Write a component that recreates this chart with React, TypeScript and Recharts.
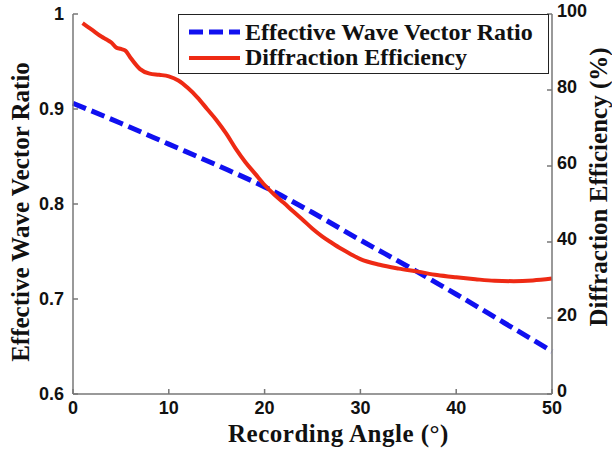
import { Legend, Line, LineChart, XAxis, YAxis } from "recharts"

// effective wave vector ratio (left axis)
const ratioAngles = [0, 5, 10, 15, 20, 25, 30, 35, 40, 45, 50]
const ratioValues = [0.906, 0.885, 0.863, 0.841, 0.818, 0.791, 0.762, 0.734, 0.705, 0.675, 0.645]

// diffraction efficiency in % (right axis)
const effAngles = [
  1, 2, 3, 3.5, 4, 4.5, 5, 5.5, 6, 7, 8, 9, 10, 11, 12, 13, 14, 15, 16, 17, 18, 19, 20,
  21, 22, 23, 24, 25, 26, 27, 28, 29, 30, 32, 34, 36, 38, 40, 42, 44, 46, 48, 50,
]
const effValues = [
  97.6, 95.8, 94.0, 93.3, 92.5, 91.2, 90.8, 90.3, 88.5, 85.5, 84.3, 84.0, 83.6, 82.5, 80.5,
  78.0, 75.0, 72.0, 68.5, 64.5, 61.0, 58.0, 55.0, 52.5, 50.3, 48.0, 45.8, 43.5, 41.5, 39.8,
  38.2, 36.8, 35.5, 34.0, 33.0, 32.2, 31.3, 30.7, 30.2, 29.8, 29.7, 29.9, 30.4,
]

const angleTicks = [0, 10, 20, 30, 40, 50]
const ratioTicks = [0.6, 0.7, 0.8, 0.9, 1]
const effTicks = [0, 20, 40, 60, 80, 100]

const ratioData = ratioAngles.map((a, i) => ({ angle: a, ratio: ratioValues[i] }))
const effData = effAngles.map((a, i) => ({ angle: a, eff: effValues[i] }))

const BLUE = "#1010f0"
const RED = "#ee2a14"
const AXIS = "#777"
const tickFont = { fontFamily: "Liberation Sans", fontWeight: "bold", fontSize: 18, fill: "#111" }
const titleFont = { fontFamily: "Liberation Serif", fontWeight: "bold", fontSize: 25, fill: "#111" }

function LegendBox() {
  return (
    <svg width={371} height={60} style={{ display: "block" }}>
      <rect x={0.5} y={0.5} width={370} height={59} fill="#fff" stroke="#222" strokeWidth={1} />
      <line x1={11} x2={62} y1={18} y2={18} stroke={BLUE} strokeWidth={5} strokeDasharray="14 6" />
      <line x1={11} x2={62} y1={44} y2={44} stroke={RED} strokeWidth={4} />
      <text x={67} y={26} style={{ ...titleFont, fontSize: 24 }}>Effective Wave Vector Ratio</text>
      <text x={67} y={51} style={{ ...titleFont, fontSize: 24 }}>Diffraction Efficiency</text>
    </svg>
  )
}

function BottomTitle(props: any) {
  const vb = props.viewBox
  return (
    <text x={vb.x + vb.width / 2 + 26} y={vb.y + 48} textAnchor="middle" style={{ ...titleFont, letterSpacing: 0.5 }}>
      Recording Angle (°)
    </text>
  )
}

function LeftTitle(props: any) {
  const vb = props.viewBox
  const cx = vb.x + 12
  const cy = vb.y + vb.height / 2 + 8
  return (
    <text transform={`translate(${cx},${cy}) rotate(-90)`} textAnchor="middle" dominantBaseline="central" style={titleFont}>
      Effective Wave Vector Ratio
    </text>
  )
}

function RightTitle(props: any) {
  const vb = props.viewBox
  const cx = vb.x + 46
  const cy = vb.y + vb.height / 2 - 17
  return (
    <text transform={`translate(${cx},${cy}) rotate(-90)`} textAnchor="middle" dominantBaseline="central" style={titleFont}>
      Diffraction Efficiency (%)
    </text>
  )
}

export default function App() {
  return (
    <div style={{ position: "absolute", left: 0, top: 0, width: 612, height: 453, background: "#fff" }}>
      <LineChart width={612} height={453} margin={{ top: 14, right: 8, bottom: 9, left: 8 }} style={{ overflow: "visible" }}>
        <XAxis
          dataKey="angle"
          type="number"
          domain={[0, 50]}
          ticks={angleTicks}
          xAxisId="bottom"
          height={50}
          stroke={AXIS}
          strokeWidth={1.5}
          tickSize={-5}
          tickMargin={12}
          tick={tickFont}
          label={<BottomTitle />}
        />
        <XAxis
          dataKey="angle"
          type="number"
          domain={[0, 50]}
          ticks={angleTicks}
          xAxisId="top"
          orientation="top"
          height={0}
          stroke={AXIS}
          strokeWidth={1.5}
          tickSize={-5}
          tickFormatter={() => ""}
        />
        <YAxis
          yAxisId="left"
          type="number"
          domain={[0.6, 1]}
          ticks={ratioTicks}
          width={65}
          stroke={AXIS}
          strokeWidth={1.5}
          tickSize={-5}
          tickMargin={14}
          tick={tickFont}
          tickFormatter={(v: number) => (v === 1 ? "1" : v.toFixed(1))}
          label={<LeftTitle />}
        />
        <YAxis
          yAxisId="mirror"
          orientation="right"
          type="number"
          domain={[0.6, 1]}
          ticks={ratioTicks}
          width={0}
          stroke={AXIS}
          strokeWidth={1.5}
          tickSize={-5}
          tickFormatter={() => ""}
        />
        <YAxis
          yAxisId="right"
          orientation="right"
          type="number"
          domain={[0, 100]}
          ticks={effTicks}
          width={52}
          stroke={AXIS}
          strokeWidth={1.5}
          tickSize={-5}
          tickMargin={10}
          tick={{ ...tickFont, textAnchor: "start", dy: -3 }}
          label={<RightTitle />}
        />
        <Legend
          layout="vertical"
          align="center"
          verticalAlign="middle"
          wrapperStyle={{ left: 178, top: 14, width: 371, height: 60 }}
          content={() => <LegendBox />}
        />
        <Line
          data={ratioData}
          xAxisId="bottom"
          yAxisId="left"
          dataKey="ratio"
          type="monotone"
          stroke={BLUE}
          strokeWidth={5}
          strokeDasharray="14 6"
          dot={false}
          isAnimationActive={false}
        />
        <Line
          data={effData}
          xAxisId="bottom"
          yAxisId="right"
          dataKey="eff"
          type="monotone"
          stroke={RED}
          strokeWidth={4}
          dot={false}
          isAnimationActive={false}
        />
      </LineChart>
    </div>
  )
}
